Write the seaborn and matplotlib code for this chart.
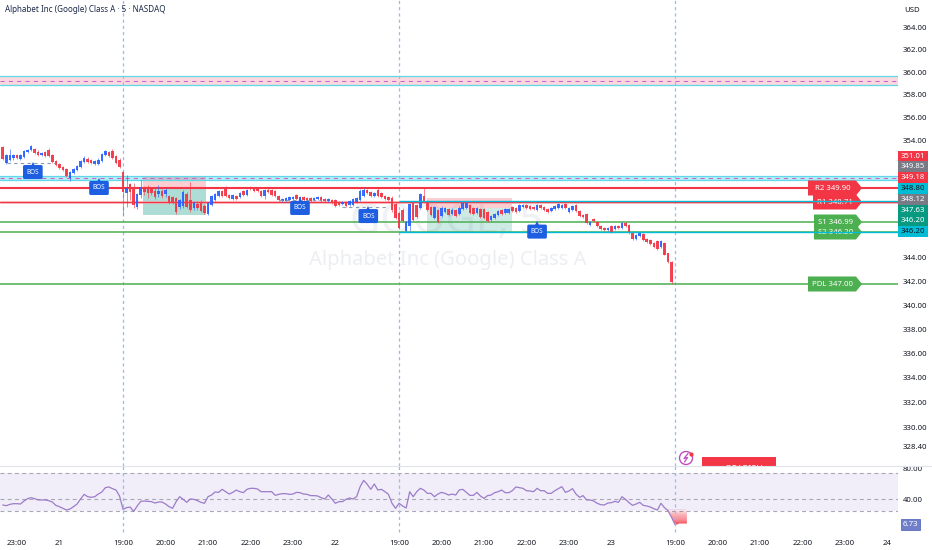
import numpy as np
import pandas as pd
import seaborn as sns
import matplotlib
matplotlib.use("Agg")
import matplotlib.pyplot as plt
from matplotlib.patches import Polygon, Rectangle, Circle
from matplotlib.ticker import FixedLocator, NullLocator, FuncFormatter

# ---------- DATA ----------
opens_a = [353.43,352.06,352.32,352.49,352.75,352.41,352.58,353.01,353.18,353.26,353.01,352.75,353.01,353.18,352.75,352.23,351.98,351.72,351.55,350.78,351.21,351.46,351.72,352.15,352.41,352.32,351.98,351.98,352.23,352.75,353.01,353.09,352.66,352.32]
closes_a = [352.41,352.75,352.75,352.75,352.49,352.75,353.09,353.18,353.52,352.92,352.75,352.92,352.66,352.66,352.15,351.89,351.63,351.46,350.95,351.29,351.55,351.81,352.23,352.49,352.15,352.06,352.23,352.32,352.83,353.09,352.66,352.49,352.06,351.72]
highs_a = [353.52,352.83,353.26,352.83,352.83,352.83,353.18,353.26,353.60,353.35,353.18,353.01,353.09,353.35,352.83,352.32,352.06,351.81,351.63,351.38,351.63,351.89,352.32,352.66,352.58,352.41,352.32,352.49,352.92,353.18,353.09,353.26,352.75,352.49]
lows_a = [352.32,351.98,352.23,352.32,352.41,352.32,352.49,352.92,353.09,352.83,352.66,352.66,352.58,352.58,352.06,351.81,351.55,351.38,350.86,350.52,351.12,351.38,351.63,352.06,352.06,351.98,351.89,351.89,352.15,352.66,352.58,352.41,351.98,351.63]

opens_b = [351.29,349.49,350.26,350.01,348.29,349.32,349.83,350.01,349.83,349.66,349.41,349.66,349.41,349.23,349.15,349.06,348.29,348.38,349.41,348.89,348.21,348.55,348.72,348.38,347.69,348.46,348.89,349.23,349.66,349.83,349.32,348.98,349.23,349.15,349.66,349.32,350.01,349.83,349.92,349.66,349.23,349.75,349.75,349.66,349.23,348.81,348.81,348.89,348.98,349.32,348.89,349.15,349.06,349.06,348.89,348.98,349.15,348.98,348.81,348.89,348.89,348.72,348.55,348.72,348.46,348.46,348.72,348.89,349.23,349.75,349.58,349.23,349.75,349.49,349.23,349.15,349.06,348.55,347.78,348.03,346.23,346.66,348.63,348.46,348.21,349.23,348.81,348.29,347.35,348.03,347.52,347.86,348.12,347.69,348.03,347.69,348.12,348.21,348.46,348.21,347.78,348.12,348.12,347.86,347.18,347.35,347.61,348.03,347.78,347.78,348.29,348.21,347.95,348.29,348.46,348.38,348.29,348.03,348.46,348.29,348.12,347.95,348.12,348.21,348.21,348.55,347.86,348.03,348.46,347.95,347.61,347.69,346.75,347.26,347.01,346.66,346.49,346.32,346.66,346.41,346.66,346.49,346.92,346.75,346.15,345.55,345.81,345.98,345.55,345.46,345.21,345.38,344.86,345.21,344.35,343.63]
closes_b = [349.58,349.92,349.58,348.46,349.41,350.01,349.58,349.49,349.49,349.15,349.66,349.23,349.75,348.63,348.63,347.86,348.89,349.58,348.29,348.03,348.63,348.21,347.95,347.78,348.63,349.23,349.41,349.66,349.23,349.23,349.06,349.32,348.98,349.49,349.32,349.75,349.83,349.66,349.66,349.23,349.75,349.58,349.32,349.23,348.89,348.98,349.06,349.15,349.15,348.98,349.15,348.89,348.89,348.81,349.06,349.15,348.81,348.81,348.98,348.63,348.38,348.46,348.72,348.38,348.81,348.98,349.06,349.66,349.75,349.49,349.23,349.49,349.23,349.15,348.98,348.89,348.03,347.35,346.49,347.09,347.01,348.55,347.18,347.43,349.41,348.81,348.03,347.61,348.29,347.01,348.21,348.21,347.61,348.03,347.52,348.21,348.63,348.63,347.78,347.69,348.21,347.43,347.35,347.09,347.52,347.69,347.95,347.69,348.12,348.12,347.95,347.86,348.46,348.46,348.21,348.12,348.12,348.46,348.21,348.03,347.86,348.21,348.38,348.55,348.46,348.21,348.21,348.38,347.95,347.52,347.43,346.92,347.01,347.09,346.66,346.41,346.32,346.49,346.15,346.66,346.49,346.92,346.66,346.06,345.55,345.89,346.06,345.46,345.29,345.12,344.86,344.69,345.38,344.26,343.63,341.95]
highs_b = [351.38,351.03,350.35,350.35,349.49,350.61,350.09,350.18,350.01,350.01,350.18,349.83,349.92,349.32,349.23,349.15,348.98,349.75,349.58,350.43,348.81,348.81,348.89,348.55,348.72,349.32,349.49,349.75,349.75,350.09,349.41,349.41,349.32,349.58,349.75,349.83,350.09,350.01,350.01,349.75,349.83,349.92,349.83,349.75,349.32,349.06,349.15,349.23,349.23,349.41,349.23,349.23,349.15,349.15,349.15,349.23,349.23,349.06,349.06,348.98,348.98,348.81,348.81,348.81,348.89,349.06,349.15,349.83,349.92,349.83,349.66,349.58,349.92,349.58,349.32,349.23,349.23,348.72,347.95,348.21,347.09,348.63,348.72,348.55,349.49,349.92,348.89,348.38,348.38,348.12,348.38,348.29,348.21,348.21,348.12,348.38,348.81,348.72,348.55,348.29,348.29,348.21,348.21,347.95,347.61,347.78,348.03,348.12,348.21,348.21,348.38,348.29,348.55,348.55,348.55,348.46,348.38,348.55,348.55,348.38,348.21,348.29,348.46,348.63,348.55,348.63,348.29,348.46,348.55,348.03,347.69,347.78,347.09,347.35,347.09,346.75,346.58,346.58,346.75,346.75,346.75,347.01,347.01,346.83,346.23,345.98,346.15,346.06,345.63,345.55,345.29,345.46,345.46,345.29,344.43,343.71]
lows_b = [347.61,348.29,348.89,348.21,348.12,349.06,349.32,349.06,349.32,348.98,349.15,349.06,349.15,348.55,348.55,347.69,348.12,348.21,348.21,347.86,348.03,348.03,347.86,347.69,347.61,348.38,348.81,349.15,349.15,349.15,348.98,348.89,348.89,349.06,349.23,349.23,349.75,349.58,349.58,349.15,348.98,349.49,349.23,349.15,348.81,348.72,348.72,348.81,348.89,348.89,348.81,348.81,348.81,348.72,348.81,348.89,348.72,348.72,348.72,348.55,348.29,348.38,348.46,348.29,348.38,348.38,348.63,348.81,349.15,349.41,349.15,349.15,349.15,349.06,348.89,348.81,347.86,347.26,346.41,347.01,346.15,346.23,347.09,347.35,348.12,348.72,347.95,347.52,347.26,346.92,347.43,347.78,347.52,347.61,347.43,347.61,348.03,348.12,347.69,347.61,347.69,347.35,347.26,347.01,347.09,347.26,347.52,347.61,347.69,347.69,347.86,347.78,347.86,348.21,348.12,348.03,348.03,347.95,348.12,347.95,347.78,347.86,348.03,348.12,348.12,348.12,347.78,347.95,347.86,347.43,347.35,346.83,346.66,347.01,346.58,346.32,346.23,346.23,346.06,346.32,346.41,346.41,346.58,345.98,345.46,345.46,345.72,345.38,345.21,345.03,344.78,344.60,344.78,344.18,343.55,341.78]

rsi_a = [32.5,31.6,33.3,34.2,34.2,33.8,37.7,40.8,42.1,40.8,39.1,39.1,39.1,38.2,36.4,32.0,30.3,28.1,25.9,27.2,30.3,33.8,40.4,46.5,43.4,42.6,43.4,46.9,49.6,55.3,56.2,54.0,52.2,44.3]
rsi_b = [26.8,29.0,29.8,24.1,31.2,37.3,37.7,37.3,36.9,35.1,36.4,36.4,33.8,30.3,28.1,36.9,43.4,39.9,36.0,40.4,39.9,38.2,36.0,34.7,43.4,45.6,49.6,49.1,53.1,50.0,46.9,49.1,52.2,50.0,48.7,53.1,54.4,54.4,53.5,50.0,50.0,50.0,50.0,45.2,46.5,47.4,47.4,46.5,46.9,49.1,48.7,46.9,46.5,44.8,44.8,44.3,42.1,40.4,45.6,40.4,34.7,36.9,36.9,39.9,41.7,40.4,43.4,56.6,64.9,59.7,53.1,60.1,52.2,53.1,50.0,46.5,34.7,28.1,34.7,31.2,28.5,50.0,43.4,50.0,54.4,52.2,47.8,47.8,43.4,46.9,49.1,47.8,45.6,46.9,45.6]
rsi_c = [52.2,53.1,49.1,45.2,45.2,49.1,44.3,41.2,44.8,45.6,48.7,50.0,52.2,48.7,48.7,51.3,56.2,55.3,54.4,51.3,50.9,50.0,54.4,51.3,51.3,47.8,47.8,51.3,54.0,56.6,49.1,50.9,54.0,46.9,42.6,44.8,39.1,39.1,37.7,34.7,32.9,32.5,35.1,35.5,37.3,36.0,43.4,39.9,35.5,32.0,33.8,36.0,32.0,31.2,29.8,27.6,25.9,34.7,29.0,25.0,16.2,6.7]
tail_bars = [153.8,155.0,156.0,157.0,159.2]
tail_rsi = [25.0,16.2,6.7,8.8,8.8]

time_ticks = [-30,-18,0,12,24,36,48,60,78,90,102,114,126,138,156,168,180,192,204,216]
time_labels = ["23:00","21","19:00","20:00","21:00","22:00","23:00","22","19:00","20:00","21:00","22:00","23:00","23","19:00","20:00","21:00","22:00","23:00","24"]
day_labels = {"21","22","23","24"}
session_bars = [0,78,156]
price_ticks = [364,362,360,358,356,354,344,342,340,338,336,334,332,330,328.4]
rsi_ticks = [80,40]
rsi_levels = [74,40,25]

r2, r1, s1, s2, pdl = 349.90, 348.71, 346.99, 346.20, 341.75
pivot_names = ["R1 348.71","R2 349.90","S1 346.99","S2 346.20","PDL 347.00"]
upper_zone = [358.86, 359.21, 359.66]
lower_zone = [350.61, 350.78, 350.95]
cyan_a, cyan_b = 348.80, 346.20
blocks = [(5.5,23.5,349.83),(86.0,110.0,348.21)]
block_tops = [350.95, 349.06]
block_bottoms = [347.61, 346.20]
block_alpha = [0.33, 0.20]
bos_bars = [-25.5,-6.8,50.0,69.3,117.0]
bos_prices = [351.29,349.92,348.21,347.52,346.20]
bos_dash = [(-32.7,-19.2,352.06),(44.0,56.0,348.89),(62.0,75.0,348.29)]
tag_texts = ["351.01","349.85","349.18","348.80","348.12","347.63","346.20","346.20"]
tag_colors = ["#f23645","#787b86","#f23645","#00bcd4","#787b86","#089981","#089981","#00bcd4"]
tag_text_colors = ["white","white","white","#131722","white","white","white","#131722"]

# ---------- STYLE ----------
sns.set_theme(style="white")
plt.rcParams['font.family'] = ['Noto Sans', 'DejaVu Sans']
W, H = 932, 550
fig = plt.figure(figsize=(W/100, H/100), dpi=100, facecolor="white")
INK = "#131722"
BLUE, RED = "#2962ff", "#f23645"
GREEN, CYAN = "#4caf50", "#00bcd4"
PURPLE = "#9c7cc8"

x_left, x_right = -34.78, 219.0
ax = fig.add_axes([0, 84/H, 898/W, 466/H])
ax_r = fig.add_axes([0, 15/H, 898/W, 69/H])
ax_px = fig.add_axes([0, 0, 1, 1], zorder=-1)
ax_px.set_xlim(0, W); ax_px.set_ylim(H, 0); ax_px.axis("off")
px = ax_px.transData

# ---------- PRICE PANEL ----------
opens = np.array(opens_a + opens_b)
closes = np.array(closes_a + closes_b)
highs = np.array(highs_a + highs_b)
lows = np.array(lows_a + lows_b)
bars = np.arange(len(opens)) - len(opens_a)
colors = [BLUE if c >= o else RED for o, c in zip(opens, closes)]

ax.set_yscale("log")
ax.set_xlim(x_left, x_right)
ax.set_ylim(326.87, 366.42)

# zones
ax.axhspan(upper_zone[0], upper_zone[2], color="#fad8de", lw=0, zorder=1)
ax.axhspan(lower_zone[0], lower_zone[2], color="#b9eef5", lw=0, zorder=1)
for z in (upper_zone, lower_zone):
    ax.axhline(z[0], color="#5fd8ea", lw=0.9, zorder=1.5)
    ax.axhline(z[2], color="#5fd8ea", lw=0.9, zorder=1.5)
    ax.axhline(z[1], color="#d05fd0", lw=0.75, ls=(0, (4, 4)), zorder=1.6)

# order blocks
for (b0, b1, mid), t, bt, a in zip(blocks, block_tops, block_bottoms, block_alpha):
    ax.fill_between([b0, b1], mid, t, color=RED, alpha=0.24, lw=0, zorder=1.2)
    ax.fill_between([b0, b1], bt, mid, color="#089981", alpha=a, lw=0, zorder=1.2)

# levels
ax.axhline(r1, color="#f7a6ad", lw=2.2, alpha=0.6, zorder=2)
ax.axhline(r1, color=RED, lw=0.9, zorder=2.1)
ax.axhline(r2, color=RED, lw=1.5, zorder=2.1)
ax.axhline(s1, color=GREEN, lw=1.1, zorder=2)
ax.axhline(s2, color=GREEN, lw=1.1, zorder=2)
ax.axhline(pdl, color=GREEN, lw=1.1, zorder=2)
ax.hlines([cyan_a, cyan_b], 78, x_right, color=CYAN, lw=1.0, zorder=6)

for b in session_bars:
    ax.axvline(b, color="#8fbdf5", lw=0.9, ls=(0, (2.5, 2.5)), zorder=1.8)
    ax_r.axvline(b, ymin=0.04, color="#8fbdf5", lw=0.9, ls=(0, (2.5, 2.5)), zorder=4)

# candles
ax.vlines(bars, lows, highs, colors=colors, lw=0.7, alpha=0.6, zorder=3)
ax.bar(bars, closes - opens, bottom=opens, width=0.72, color=colors, lw=0, alpha=0.92, zorder=3.1)

# structure labels
for b0, b1, p in bos_dash:
    ax.hlines(p, b0, b1, color="#8c9bb0", lw=0.8, ls=(0, (3, 3)), zorder=3.2)
for b, p in zip(bos_bars, bos_prices):
    ax.annotate("BOS", (b, p), ha="center", va="center", fontsize=4.6, fontweight="bold",
                color="white", zorder=7,
                bbox=dict(boxstyle="round,pad=0.55,rounding_size=0.25", fc="#1d5fe0", ec="none"))
    ax.plot([b], [p * (1 + 7.2/4081)], marker="^", ms=4.5, color="#1d5fe0", mew=0, zorder=7, clip_on=False)

# pivot flags
flag_lefts = [813, 808, 814, 814, 808]
flag_ys = [202, 188, 222, 232, 284]
flag_cols = [RED, RED, GREEN, GREEN, GREEN]
for name, l, y, c in zip(pivot_names, flag_lefts, flag_ys, flag_cols):
    r = 862
    ax.add_patch(Polygon([(l, y-7.5), (r-6, y-7.5), (r, y), (r-6, y+7.5), (l, y+7.5)],
                         closed=True, fc=c, ec="none", transform=px, zorder=5, clip_on=False))
    ax.text((l + r - 5)/2, y, name, transform=px, ha="center", va="center", color="white",
            fontsize=5.6, zorder=5.5)

# price axis
ax.yaxis.tick_right()
ax.yaxis.set_major_locator(FixedLocator(price_ticks))
ax.yaxis.set_minor_locator(NullLocator())
ax.yaxis.set_major_formatter(FuncFormatter(lambda v, _: f"{v:.2f}"))
ax.tick_params(axis="y", length=0, pad=3.6, labelsize=5.6, labelcolor=INK)
ax.set_xticks([])
sns.despine(ax=ax, left=True, bottom=True, right=True, top=True)
ax.patch.set_alpha(0)

# watermark, title, currency
fig.text(447/W, 1-222/H, "GOOGL, 5", ha="center", va="center", fontsize=30, fontweight="bold",
         color="#eff1f4", zorder=-2)
fig.text(448/W, 1-260/H, "Alphabet Inc (Google) Class A", ha="center", va="center", fontsize=14.5,
         color="#eceef2", zorder=-2)
fig.text(5/W, 1-10/H, "Alphabet Inc (Google) Class A \u00b7 5 \u00b7 NASDAQ", ha="left", va="center",
         fontsize=5.8, fontweight="bold", color="#1e2a4a")
fig.text(912/W, 1-11/H, "USD", ha="center", va="center", fontsize=5.6, color=INK)

# axis tags
for i, (t, c, tc) in enumerate(zip(tag_texts, tag_colors, tag_text_colors)):
    y = 156 + i * 10.8
    fig.patches.append(Rectangle((898/W, 1-(y+5.4)/H), 30/W, 10.8/H, transform=fig.transFigure, fc=c, ec="none"))
    fig.text(913/W, 1-y/H, t, ha="center", va="center", color=tc, fontsize=5.6, zorder=5)

# signal icon and clipped BEARISH box
ax_px.add_patch(Circle((686, 458), 6.5, fc="white", ec="#c04cc0", lw=1.0))
ax_px.plot([688, 684, 687.5, 684.5], [453.5, 458.5, 457.5, 462], color="#c04cc0", lw=0.9)
ax_px.plot([691], [453.5], marker="o", ms=2, color=RED)
box = Rectangle((702, 457), 74, 9, fc=RED, ec="none")
ax_px.add_patch(box)
bearish = ax_px.text(739, 469.5, "\u25a3 BEARISH", ha="center", va="center", color="white", fontsize=6.5,
                     fontweight="bold")
bearish.set_clip_path(box)
bearish.set_clip_on(True)

# ---------- RSI PANEL ----------
rsi = np.array(rsi_a + rsi_b + rsi_c)
rsi_df = pd.DataFrame({"bar": np.arange(len(rsi)) - len(rsi_a), "rsi": rsi})
ax_r.set_xlim(x_left, x_right)
ax_r.set_ylim(-7.0, 83.8)
ax_r.axhspan(rsi_levels[2], rsi_levels[0], color="#f1eef9", lw=0, zorder=1)
for lv in rsi_levels:
    ax_r.axhline(lv, color="#a8a8b4", lw=0.8, ls=(0, (3.5, 3)), zorder=1.5)
steps = np.linspace(rsi_levels[2] + 2, min(tail_rsi), 15)
tx = np.linspace(tail_bars[0], tail_bars[-1], 80)
ty = np.interp(tx, tail_bars, tail_rsi)
for i in range(len(steps) - 1):
    a = 0.12 + 0.85 * i / (len(steps) - 2)
    ax_r.fill_between(tx, np.maximum(ty, steps[i+1]), np.maximum(ty, steps[i]),
                      color=RED, alpha=a, lw=0, zorder=2)
sns.lineplot(data=rsi_df, x="bar", y="rsi", ax=ax_r, color=PURPLE, lw=0.9, legend=False, zorder=3, errorbar=None)
ax_r.set_xlabel(""); ax_r.set_ylabel("")
ax_r.yaxis.tick_right()
ax_r.set_yticks(rsi_ticks)
ax_r.set_yticklabels([f"{v:.2f}" for v in rsi_ticks])
ax_r.tick_params(axis="y", length=0, pad=3.6, labelsize=5.6, labelcolor=INK)
ax_r.set_xticks(time_ticks)
ax_r.set_xticklabels(time_labels)
ax_r.tick_params(axis="x", length=0, pad=3.5, labelsize=5.6, labelcolor=INK)
for lab, t in zip(ax_r.get_xticklabels(), time_labels):
    if t in day_labels:
        lab.set_fontweight("bold")
sns.despine(ax=ax_r, left=True, bottom=True, right=True, top=True)
ax_r.patch.set_alpha(0)
ax_r.annotate(f"{6.73:.2f}", (1.0, 6.73), xycoords=("axes fraction", "data"), xytext=(9, 0),
              textcoords="offset points", ha="center", va="center", color="white", fontsize=5.6,
              annotation_clip=False,
              bbox=dict(boxstyle="square,pad=0.25", fc="#6f7fc9", ec="#5b6ac4", lw=0.6))

# separator above the RSI panel
fig.add_artist(plt.Line2D([0, 1], [1-466/H, 1-466/H], color="#e0e3eb", lw=0.8))

fig.savefig("out.png", dpi=100, facecolor="white")
